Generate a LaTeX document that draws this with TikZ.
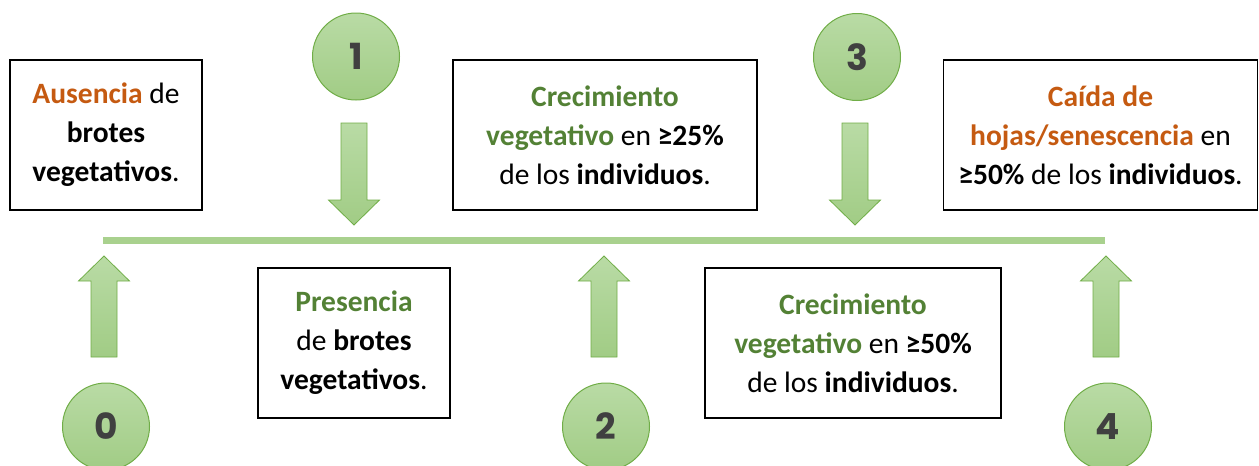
\documentclass[tikz,border=0pt]{standalone}
\usepackage{fontspec}
\setmainfont{Carlito}
\newfontfamily\numfont{Poppins}
\usepackage{tikz}
\usetikzlibrary{positioning}
\definecolor{ptgreen}{HTML}{70AD47}
\definecolor{ptlight}{HTML}{B9DBA5}
\definecolor{ptdark}{HTML}{A1CC85}
\definecolor{ptline}{HTML}{A9D18E}
\definecolor{txtorange}{HTML}{C55A11}
\definecolor{txtgreen}{HTML}{538135}
\definecolor{numgray}{HTML}{404040}
\tikzstyle{phase}=[circle, draw=ptgreen
%,fill=ptlight
,top color=ptlight, bottom color=ptdark
,line width=1pt
,minimum size=87pt
,inner sep=0pt
,text=numgray
,font=\numfont\bfseries\fontsize{36}{40}\selectfont
]
\tikzstyle{stage}=[draw, line width=1.5pt, align=center
,minimum height=150pt
,inner sep=0pt
,font=\fontsize{29.5}{39}\selectfont
]
\tikzstyle{bigarrow} = [draw=ptgreen, line width=0.8pt, top color=ptlight, bottom color=ptdark]
\newcommand{\otxt}[1]{\textcolor{txtorange}{\textbf{#1}}}
\newcommand{\gtxt}[1]{\textcolor{txtgreen}{\textbf{#1}}}

\begin{document}
\begin{tikzpicture}[x=1pt,y=-1pt]
    \useasboundingbox (0,0) rectangle (1259,466);
    % Timeline
    \coordinate (tstart) at (103,240.5);
    \coordinate (tend) at (1105,240.5);
    \draw[ptline, line width=7pt] (tstart) -- (tend);

    % Phase circles
    \foreach \pos/\name/\num in {{(106,426.5)/p0/0}, {(356,56.5)/p1/1}, {(606,426.5)/p2/2}, {(857,57)/p3/3}, {(1108,426.5)/p4/4}}
        \node[phase] (\name) at \pos {\num};

    % Arrows pointing down to the line
    \foreach \c in {354,855}
        \path[bigarrow] (\c-13,123) -- (\c+13,123) -- (\c+13,200) -- (\c+25.5,200)
            -- (\c,225) -- (\c-25.5,200) -- (\c-13,200) -- cycle;
    % Arrows pointing up to the line
    \foreach \c in {104,604,1106}
        \path[bigarrow] (\c-13,357) -- (\c+13,357) -- (\c+13,281) -- (\c+25.5,281)
            -- (\c,256) -- (\c-25.5,281) -- (\c-13,281) -- cycle;

    % Descriptions
    \node[stage, minimum width=192pt] (absent) at (106,135)
        {\otxt{Ausencia} de\\\textbf{brotes}\\\textbf{vegetativos}.};
    \node[stage, minimum width=304pt] (grow25) at (605,135)
        {\gtxt{Crecimiento}\\\gtxt{vegetativo} en \textbf{≥25\%}\\de los \textbf{individuos}.};
    \node[stage, minimum width=314pt] (fall) at (1100.5,135)
        {\otxt{Caída de}\\\otxt{hojas/senescencia} en\\\textbf{≥50\%} de los \textbf{individuos}.};
    \node[stage, minimum width=192pt] (sprout) at (354,343)
        {\gtxt{Presencia}\\de \textbf{brotes}\\\textbf{vegetativos}.};
    \node[stage, minimum width=296pt] (grow50) at (853,343)
        {\gtxt{Crecimiento}\\\gtxt{vegetativo} en \textbf{≥50\%}\\de los \textbf{individuos}.};
\end{tikzpicture}
\end{document}
